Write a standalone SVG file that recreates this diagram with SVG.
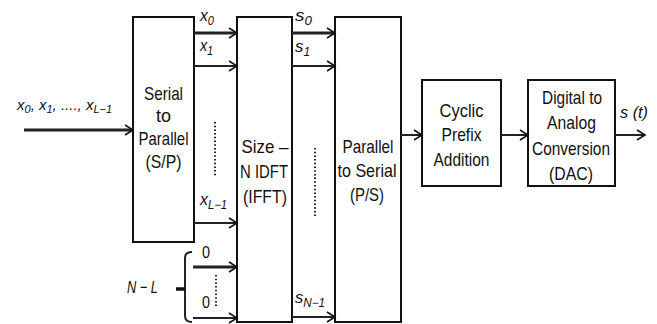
<svg xmlns="http://www.w3.org/2000/svg" width="657" height="324" viewBox="0 0 657 324">
<defs>
<marker id="arr" markerUnits="userSpaceOnUse" markerWidth="12" markerHeight="12" refX="0" refY="0" orient="auto" overflow="visible">
<path d="M-8,-5 L0,0 L-8,5" fill="none" stroke="#111" stroke-width="1.6"/>
</marker>
</defs>
<style>
.box{fill:#fff;stroke:#111;stroke-width:2}
.ln{fill:none;stroke:#222;stroke-width:2;marker-end:url(#arr)}
.thk{stroke-width:3}
.dot{fill:none;stroke:#222;stroke-width:2;stroke-dasharray:1.5 2.2}
.t{font-family:"Liberation Sans",Arial,sans-serif;font-size:19px;fill:#111;text-anchor:middle}
.lb{font-family:"Liberation Sans",Arial,sans-serif;font-size:17px;font-style:italic;fill:#111}
.in{font-family:"Liberation Sans",Arial,sans-serif;font-size:15px;font-style:italic;fill:#111}
.sub{font-size:12px}
.sub2{font-size:11px}
</style>
<rect width="657" height="324" fill="#fff"/>
<g id="sp">
<rect class="box" x="133" y="17" width="61" height="225"/>
<text class="t" x="163.5" y="100" textLength="39" lengthAdjust="spacingAndGlyphs">Serial</text>
<text class="t" x="163.5" y="122" textLength="15" lengthAdjust="spacingAndGlyphs">to</text>
<text class="t" x="163.5" y="145" textLength="50" lengthAdjust="spacingAndGlyphs">Parallel</text>
<text class="t" x="163.5" y="168" textLength="36" lengthAdjust="spacingAndGlyphs">(S/P)</text>
</g>
<g id="idft">
<rect class="box" x="237" y="17" width="55" height="305"/>
<text class="t" x="265" y="153" textLength="47" lengthAdjust="spacingAndGlyphs">Size –</text>
<text class="t" x="264" y="178" textLength="48" lengthAdjust="spacingAndGlyphs">N IDFT</text>
<text class="t" x="265" y="203" textLength="44" lengthAdjust="spacingAndGlyphs">(IFFT)</text>
</g>
<g id="ps">
<rect class="box" x="335" y="17" width="66" height="305"/>
<text class="t" x="368" y="153" textLength="51" lengthAdjust="spacingAndGlyphs">Parallel</text>
<text class="t" x="367" y="177" textLength="59" lengthAdjust="spacingAndGlyphs">to Serial</text>
<text class="t" x="367" y="201" textLength="34" lengthAdjust="spacingAndGlyphs">(P/S)</text>
</g>
<g id="cp">
<rect class="box" x="422" y="80" width="79" height="106"/>
<text class="t" x="461.5" y="117" textLength="44" lengthAdjust="spacingAndGlyphs">Cyclic</text>
<text class="t" x="461.5" y="141" textLength="40" lengthAdjust="spacingAndGlyphs">Prefix</text>
<text class="t" x="461.5" y="166" textLength="56" lengthAdjust="spacingAndGlyphs">Addition</text>
</g>
<g id="dac">
<rect class="box" x="528" y="80" width="87" height="106"/>
<text class="t" x="572" y="104" textLength="60" lengthAdjust="spacingAndGlyphs">Digital to</text>
<text class="t" x="571.5" y="129" textLength="49" lengthAdjust="spacingAndGlyphs">Analog</text>
<text class="t" x="571" y="155" textLength="78" lengthAdjust="spacingAndGlyphs">Conversion</text>
<text class="t" x="571" y="180" textLength="44" lengthAdjust="spacingAndGlyphs">(DAC)</text>
</g>
<g id="connectors">
<line class="ln thk" x1="24" y1="130" x2="133" y2="130"/>
<line class="ln thk" x1="194" y1="33" x2="237" y2="33"/>
<line class="ln" x1="194" y1="66" x2="237" y2="66"/>
<line class="ln" x1="194" y1="223" x2="237" y2="223"/>
<line class="ln thk" x1="193" y1="267" x2="237" y2="267"/>
<line class="ln" x1="193" y1="318" x2="237" y2="318"/>
<line class="ln thk" x1="292" y1="33" x2="335" y2="33"/>
<line class="ln" x1="292" y1="66" x2="335" y2="66"/>
<line class="ln" x1="292" y1="317" x2="335" y2="317"/>
<line class="ln" x1="401" y1="135" x2="422" y2="135"/>
<line class="ln" x1="501" y1="135" x2="528" y2="135"/>
<line class="ln" x1="615" y1="135" x2="645" y2="135"/>
<line class="dot" x1="215" y1="122" x2="215" y2="177"/>
<line class="dot" x1="315" y1="148" x2="315" y2="216"/>
<line class="dot" x1="216" y1="275" x2="216" y2="308"/>
<path d="M192,252 Q185,252 185,258 L185,316 Q185,322 192,322" fill="none" stroke="#222" stroke-width="2"/>
<line x1="176" y1="289" x2="185" y2="289" stroke="#111" stroke-width="3.5"/>
</g>
<g id="labels">
<text class="in" x="17" y="110">x<tspan class="sub2" dy="3">0</tspan><tspan dy="-3">, x</tspan><tspan class="sub2" dy="3">1</tspan><tspan dy="-3">, ...., x</tspan><tspan class="sub2" dy="3">L−1</tspan></text>
<text class="lb" x="200" y="21" textLength="14" lengthAdjust="spacingAndGlyphs">x<tspan class="sub" dy="4">0</tspan></text>
<text class="lb" x="200" y="51" textLength="13" lengthAdjust="spacingAndGlyphs">x<tspan class="sub" dy="4">1</tspan></text>
<text class="lb" x="200" y="205" textLength="27" lengthAdjust="spacingAndGlyphs">x<tspan class="sub" dy="4">L−1</tspan></text>
<text class="lb" x="295" y="21" textLength="17" lengthAdjust="spacingAndGlyphs">s<tspan class="sub" dy="4">0</tspan></text>
<text class="lb" x="295" y="52" textLength="15" lengthAdjust="spacingAndGlyphs">s<tspan class="sub" dy="4">1</tspan></text>
<text class="lb" x="295" y="303" textLength="30" lengthAdjust="spacingAndGlyphs">s<tspan class="sub" dy="4">N−1</tspan></text>
<text class="lb" x="202" y="258" style="font-style:normal" textLength="8" lengthAdjust="spacingAndGlyphs">0</text>
<text class="lb" x="202" y="308" style="font-style:normal" textLength="8" lengthAdjust="spacingAndGlyphs">0</text>
<text class="lb" x="127" y="293" textLength="31" lengthAdjust="spacingAndGlyphs">N − L</text>
<text class="lb" x="620" y="118" textLength="28" lengthAdjust="spacingAndGlyphs">s (t)</text>
</g>
</svg>
